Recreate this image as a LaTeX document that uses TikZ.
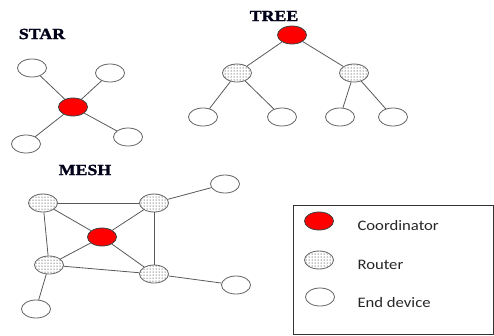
\documentclass[tikz,border=0pt]{standalone}
\usepackage{fontspec}
\usetikzlibrary{shapes.geometric,patterns}
\newfontfamily\titlefont[FakeStretch=1.15,FakeBold=1.5]{Liberation Serif}
\newfontfamily\legendfont[FakeStretch=1.15]{Carlito}

\begin{document}
\begin{tikzpicture}[x=1pt,y=-1pt,
	dev/.style={ellipse,draw=black!60,line width=0.8pt,fill=white,minimum width=29pt,minimum height=18pt,inner sep=0pt},
	coord/.style={dev,fill=red,draw=black!75},
	router/.style={dev,pattern=dots,pattern color=black},
	leaf/.style={dev},
	title/.style={font=\titlefont\bfseries\fontsize{15.5}{15.5}\selectfont,text=black!90!blue},
	legtext/.style={anchor=west,font=\legendfont\fontsize{14.5}{14.5}\selectfont,text=black!85},
	link/.style={draw=black!65,line width=0.8pt}]
\useasboundingbox (0,0) rectangle (494,335);

% STAR
\node[title] (startitle) at (42,34) {STAR};
\node[coord] (s0) at (73,107) {};
\node[leaf] (s1) at (32,68) {};
\node[leaf] (s2) at (110,73) {};
\node[leaf] (s3) at (26,144) {};
\node[leaf] (s4) at (128,137) {};
\foreach \x in {1,...,4}
	\draw[link] (s0) -- (s\x);

% TREE
\node[title] (treetitle) at (274,16) {TREE};
\node[coord] (t0) at (292,35) {};
\node[router] (t1) at (237,73) {};
\node[router] (t2) at (354,73) {};
\node[leaf] (t3) at (203,117) {};
\node[leaf] (t4) at (282,117) {};
\node[leaf] (t5) at (340,117) {};
\node[leaf] (t6) at (393,117) {};
\foreach \a/\b in {t0/t1,t0/t2,t1/t3,t1/t4,t2/t5,t2/t6}
	\draw[link] (\a) -- (\b);

% MESH
\node[title] (meshtitle) at (85,170) {MESH};
\node[coord] (m0) at (102,237) {};
\node[router] (m1) at (43,203) {};
\node[router] (m2) at (154,203) {};
\node[router] (m3) at (49,265) {};
\node[router] (m4) at (154,274) {};
\node[leaf] (m5) at (225,184) {};
\node[leaf] (m6) at (236,285) {};
\node[leaf] (m7) at (36,309) {};
\foreach \a/\b in {m1/m2,m1/m3,m1/m0,m2/m0,m2/m4,m2/m5,m3/m0,m3/m4,m3/m7,m0/m4,m4/m6}
	\draw[link] (\a) -- (\b);

% legend
\draw[black!80,line width=0.8pt] (293,205) rectangle (493,334);
\node[coord] (lc) at (319,221) {};
\node[router] (lr) at (319,260) {};
\node[leaf] (ll) at (320,297) {};
\node[legtext] (lctext) at (354,226) {Coordinator};
\node[legtext] (lrtext) at (354,265) {Router};
\node[legtext] (lltext) at (354,303) {End device};
\end{tikzpicture}
\end{document}
